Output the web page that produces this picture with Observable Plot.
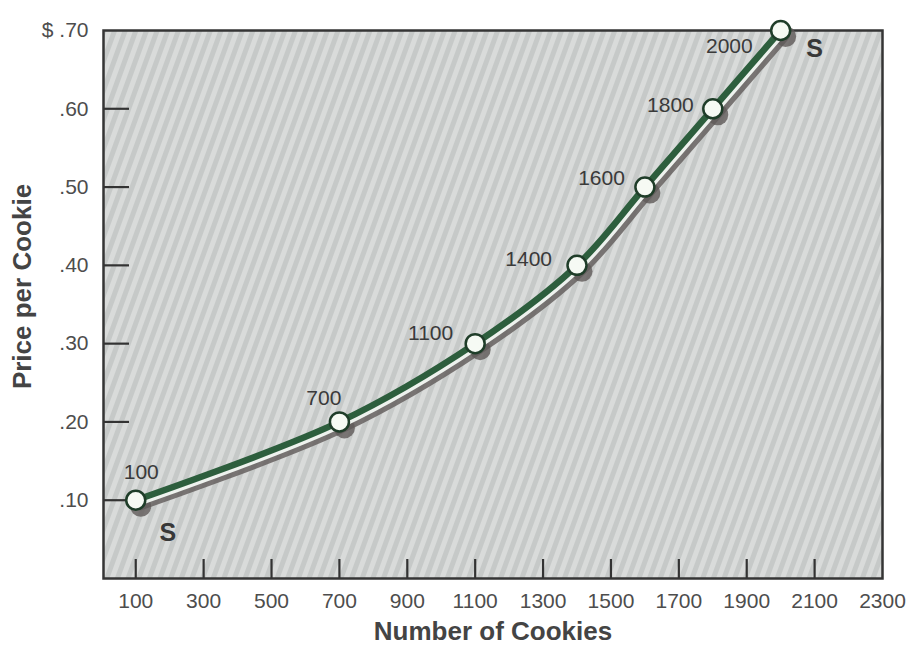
<!DOCTYPE html>
<html>
<head>
<meta charset="utf-8">
<script src="https://cdn.jsdelivr.net/npm/d3@7"></script>
<script src="https://cdn.jsdelivr.net/npm/@observablehq/plot@0.6"></script>
<style>
  html, body { margin: 0; padding: 0; background: #ffffff; }
  #chart svg { display: block; }
</style>
</head>
<body>
<div id="chart"></div>
<script>
// ---- data ----
const quantities = [100, 700, 1100, 1400, 1600, 1800, 2000];
const prices = [0.10, 0.20, 0.30, 0.40, 0.50, 0.60, 0.70];
const pointLabels = ["100", "700", "1100", "1400", "1600", "1800", "2000"];
const xTickValues = [100, 300, 500, 700, 900, 1100, 1300, 1500, 1700, 1900, 2100];
const xLabelValues = [100, 300, 500, 700, 900, 1100, 1300, 1500, 1700, 1900, 2100, 2300];
const yTickValues = [0.10, 0.20, 0.30, 0.40, 0.50, 0.60];
const yLabelValues = [0.10, 0.20, 0.30, 0.40, 0.50, 0.60, 0.70];
const yLabelTexts = [".10", ".20", ".30", ".40", ".50", ".60", "$ .70"];
const curveName = "S";
const xTitle = "Number of Cookies";
const yTitle = "Price per Cookie";

// ---- layout / style (not data) ----
const labelOffsets = [[23, -28], [2, -24], [-22, -10], [-25, -6], [-20, -9], [-19, -4], [-28, 16]];
const sOffsets = [[32, 33], [34, 18]];

const points = quantities.map((q, i) => ({q, p: prices[i], label: pointLabels[i]}));
const ends = [points[0], points[points.length - 1]];

const FONT = "'Liberation Sans', Arial, Helvetica, sans-serif";
const GREEN = "#2d5e3d";
const SHADOW = "#5f5a59";

const chart = Plot.plot({
  width: 912,
  height: 649,
  marginLeft: 103,
  marginRight: 30,
  marginTop: 30,
  marginBottom: 71,
  style: {fontFamily: FONT, background: "#ffffff", overflow: "visible"},
  x: {domain: [5, 2300]},
  y: {domain: [0, 0.70]},
  marks: [
    Plot.frame({fill: "url(#hatch)", stroke: "none"}),
    // inner ticks
    Plot.axisX({ticks: xTickValues, tickSize: -19, tickFormat: null, text: null, stroke: "#333", strokeWidth: 2.2, label: null}),
    Plot.axisY({ticks: yTickValues, tickSize: -26, tickFormat: null, text: null, stroke: "#333", strokeWidth: 2.2, label: null}),
    // tick labels
    Plot.axisX({ticks: xLabelValues, tickSize: 0, tickPadding: 15, fontSize: 21, fill: "#4d4d4d", label: null, tickFormat: d => String(d)}),
    Plot.axisY({ticks: yLabelValues, tickSize: 0, tickPadding: 15, fontSize: 21, fill: "#4d4d4d", label: null,
      tickFormat: d => yLabelTexts[yLabelValues.findIndex(v => Math.abs(v - d) < 1e-9)]}),
    Plot.frame({stroke: "#353535", strokeWidth: 2.5}),
    // shadow
    Plot.line(points, {x: "q", y: "p", curve: "catmull-rom", stroke: SHADOW, strokeWidth: 8, strokeOpacity: 0.8, dx: 5, dy: 6}),
    Plot.dot(points, {x: "q", y: "p", r: 10.5, fill: SHADOW, fillOpacity: 0.8, dx: 5, dy: 6}),
    // line
    Plot.line(points, {x: "q", y: "p", curve: "catmull-rom", stroke: "#eef2ee", strokeWidth: 8, dx: 1.5, dy: 2}),
    Plot.line(points, {x: "q", y: "p", curve: "catmull-rom", stroke: GREEN, strokeWidth: 6.5}),
    Plot.dot(points, {x: "q", y: "p", r: 9.5, fill: "#f6faf4", stroke: "#1f3d29", strokeWidth: 2.5}),
    // point labels
    ...points.map((d, i) => Plot.text([d], {x: "q", y: "p", text: "label", textAnchor: "end",
      dx: labelOffsets[i][0], dy: labelOffsets[i][1], fontSize: 21, fill: "#3a3a3a"})),
    // curve name
    ...ends.map((d, i) => Plot.text([d], {x: "q", y: "p", text: () => curveName,
      dx: sOffsets[i][0], dy: sOffsets[i][1], fontSize: 25, fontWeight: "bold", fill: "#383838"})),
    // axis titles
    Plot.text([xTitle], {frameAnchor: "bottom", textAnchor: "middle", dy: 61, fontSize: 26, fontWeight: "bold", fill: "#444"}),
    Plot.text([yTitle], {frameAnchor: "left", textAnchor: "middle", dx: -81, dy: -18, rotate: -90, fontSize: 26, fontWeight: "bold", fill: "#444"})
  ]
});

// hatch pattern for the plot area
const ns = "http://www.w3.org/2000/svg";
const defs = document.createElementNS(ns, "defs");
defs.innerHTML = `
  <pattern id="hatch" patternUnits="userSpaceOnUse" width="10" height="10" patternTransform="rotate(20)">
    <rect width="10" height="10" fill="#c6c9c8"></rect>
    <rect width="5" height="10" fill="#d9dbda"></rect>
  </pattern>`;
chart.insertBefore(defs, chart.firstChild);
document.getElementById("chart").appendChild(chart);
</script>
</body>
</html>
